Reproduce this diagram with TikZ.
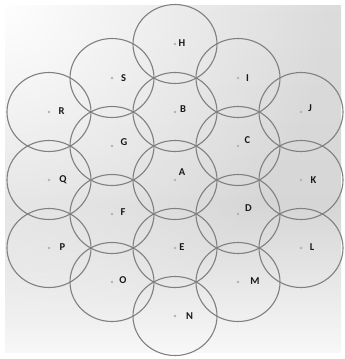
\documentclass[tikz,border=0pt]{standalone}
\usepackage{fontspec}
\setmainfont{Carlito}
\usetikzlibrary{fadings}
\pgfdeclareverticalshading{vbg}{100bp}{color(0bp)=(white); color(20bp)=(white); color(46bp)=(gray!32); color(100bp)=(gray!24)}
\tikzfading[name=tlfade, inner color=transparent!0, outer color=transparent!100]
\begin{document}
\begin{tikzpicture}[x=1pt,y=-1pt,
  cell/.style={draw=black!50, line width=1.1pt},
  dot/.style={circle, fill=black!30, inner sep=0pt, minimum size=2.6pt},
  lab/.style={font=\bfseries\fontsize{10.5}{10.5}\selectfont, text=black!90, inner sep=0pt}]
\useasboundingbox (0,0) rectangle (345,359);
\begin{scope}
  \clip (5,5) rectangle (341,352);
  \shade[shading=vbg] (5,5) rectangle (341,352);
  \fill[white, path fading=tlfade] (0,0) circle [radius=330];
\end{scope}
% centres
\foreach \n/\x/\y in {H/175/44, S/112/78, I/238/78, R/49/112, B/175/112, J/301/112,
  G/112/146, C/238/146, Q/49/180, A/175/180, K/301/180, F/112/214, D/238/214,
  P/49/248, E/175/248, L/301/248, O/112/282, M/238/282, N/175/316}{
  \node[dot] (\n) at (\x,\y) {};
  \draw[cell] (\n.center) ellipse [x radius=42, y radius=39.5];
}
% labels
\foreach \n/\x/\y in {H/182/43, S/123.5/78, I/247.5/78, R/61.5/111, B/183/109, J/310/108,
  G/124/142, C/247.5/140, Q/63/180, A/182/172, K/313.5/180, F/123/212, D/248.5/208,
  P/62.5/247, E/182/247, L/312/247, O/123/280, M/255/281.5, N/189.5/316.5}{
  \node[lab] (\n-l) at (\x,\y) {\n};
}
\end{tikzpicture}
\end{document}
